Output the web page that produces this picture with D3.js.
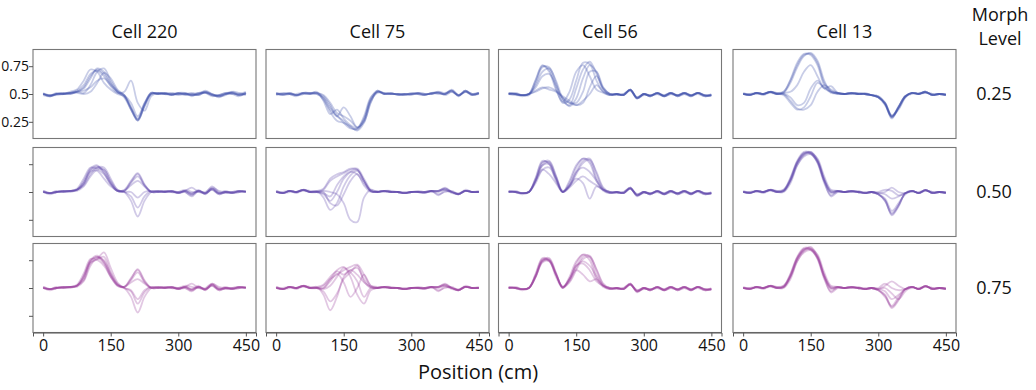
<!DOCTYPE html>
<html>
<head>
<meta charset="utf-8">
<script src="https://cdn.jsdelivr.net/npm/d3@7"></script>
<style>
  body { margin: 0; background: #fff; }
  svg { font-family: "Open Sans", "Noto Sans", sans-serif; }
</style>
</head>
<body>
<svg width="1036" height="390"></svg>
<script>
// posição ao longo da pista (cm) e níveis de morph
const positions = [0,15,30,45,60,75,90,105,120,135,150,165,180,195,210,225,240,255,270,285,300,315,330,345,360,375,390,405,420,435,450];
const cells = ["Cell 220", "Cell 75", "Cell 56", "Cell 13"];
const morphLevels = ["0.25", "0.50", "0.75"];
const xTicks = [0, 150, 300, 450];
const yTicks = [0.25, 0.5, 0.75];
const yTickLabels = ["0.25", "0.5", "0.75"];
const rowColors = ["#3a4aa8", "#5842a8", "#983a9c"];

// --- Cell 220 ---
const cell220_m25 = [
  [0.50,0.48,0.50,0.50,0.51,0.52,0.56,0.66,0.72,0.68,0.59,0.52,0.48,0.37,0.26,0.40,0.51,0.50,0.51,0.49,0.51,0.50,0.49,0.50,0.52,0.49,0.48,0.50,0.51,0.49,0.51],
  [0.50,0.49,0.50,0.51,0.50,0.52,0.51,0.58,0.70,0.73,0.62,0.53,0.49,0.38,0.27,0.41,0.50,0.51,0.50,0.50,0.50,0.51,0.48,0.51,0.51,0.48,0.49,0.51,0.50,0.50,0.52],
  [0.51,0.48,0.50,0.50,0.52,0.54,0.62,0.72,0.70,0.60,0.54,0.50,0.48,0.36,0.27,0.39,0.50,0.50,0.51,0.49,0.50,0.50,0.50,0.49,0.52,0.50,0.47,0.50,0.52,0.49,0.50],
  [0.50,0.49,0.49,0.50,0.51,0.51,0.50,0.52,0.60,0.69,0.64,0.54,0.49,0.38,0.28,0.41,0.51,0.50,0.50,0.50,0.51,0.49,0.50,0.51,0.51,0.50,0.48,0.49,0.52,0.51,0.49],
  [0.50,0.48,0.50,0.51,0.51,0.53,0.58,0.68,0.71,0.66,0.57,0.51,0.52,0.62,0.42,0.35,0.48,0.51,0.50,0.51,0.49,0.50,0.51,0.49,0.52,0.49,0.49,0.50,0.51,0.50,0.50],
  [0.49,0.48,0.51,0.50,0.50,0.52,0.55,0.64,0.73,0.70,0.60,0.52,0.47,0.36,0.26,0.39,0.50,0.51,0.50,0.49,0.51,0.51,0.49,0.50,0.53,0.50,0.48,0.50,0.50,0.48,0.51],
  [0.50,0.49,0.50,0.50,0.51,0.52,0.53,0.56,0.62,0.64,0.58,0.52,0.49,0.42,0.30,0.42,0.51,0.50,0.51,0.50,0.50,0.50,0.49,0.50,0.51,0.49,0.49,0.51,0.51,0.49,0.51]
];
const cell220_m50 = [
  [0.50,0.49,0.50,0.51,0.51,0.52,0.58,0.70,0.73,0.68,0.58,0.51,0.52,0.60,0.67,0.57,0.50,0.51,0.50,0.51,0.49,0.51,0.48,0.52,0.48,0.53,0.49,0.50,0.49,0.51,0.50],
  [0.50,0.48,0.50,0.50,0.51,0.53,0.62,0.72,0.71,0.70,0.60,0.52,0.51,0.58,0.64,0.56,0.50,0.50,0.51,0.50,0.49,0.50,0.47,0.51,0.49,0.52,0.48,0.50,0.50,0.50,0.51],
  [0.51,0.49,0.50,0.51,0.50,0.52,0.56,0.66,0.72,0.72,0.62,0.52,0.50,0.50,0.45,0.50,0.51,0.50,0.50,0.51,0.50,0.51,0.54,0.50,0.49,0.55,0.50,0.49,0.50,0.51,0.50],
  [0.50,0.49,0.51,0.50,0.51,0.51,0.55,0.64,0.70,0.66,0.57,0.51,0.50,0.42,0.28,0.42,0.50,0.51,0.50,0.50,0.50,0.50,0.46,0.51,0.49,0.52,0.49,0.51,0.49,0.50,0.50],
  [0.50,0.49,0.50,0.51,0.51,0.52,0.60,0.71,0.74,0.67,0.57,0.51,0.51,0.56,0.60,0.55,0.50,0.50,0.50,0.51,0.49,0.51,0.49,0.51,0.48,0.53,0.48,0.50,0.49,0.50,0.51],
  [0.51,0.49,0.50,0.50,0.51,0.52,0.57,0.68,0.69,0.62,0.55,0.51,0.50,0.46,0.36,0.46,0.51,0.50,0.51,0.50,0.50,0.52,0.50,0.50,0.50,0.54,0.51,0.50,0.50,0.51,0.50],
  [0.50,0.49,0.50,0.51,0.51,0.52,0.58,0.69,0.72,0.70,0.59,0.51,0.51,0.59,0.66,0.56,0.50,0.51,0.50,0.51,0.49,0.51,0.48,0.51,0.49,0.53,0.49,0.50,0.49,0.51,0.50]
];
const cell220_m75 = [
  [0.50,0.49,0.50,0.51,0.51,0.52,0.60,0.74,0.78,0.74,0.62,0.53,0.51,0.58,0.67,0.57,0.50,0.51,0.50,0.51,0.49,0.51,0.49,0.52,0.48,0.53,0.49,0.50,0.49,0.51,0.50],
  [0.50,0.48,0.50,0.50,0.51,0.53,0.63,0.76,0.76,0.78,0.64,0.54,0.51,0.57,0.64,0.55,0.50,0.50,0.51,0.50,0.49,0.50,0.48,0.51,0.49,0.52,0.48,0.50,0.50,0.50,0.51],
  [0.51,0.49,0.50,0.51,0.50,0.52,0.57,0.72,0.76,0.82,0.68,0.55,0.50,0.48,0.40,0.48,0.51,0.50,0.50,0.51,0.50,0.51,0.54,0.50,0.49,0.54,0.50,0.49,0.50,0.51,0.50],
  [0.50,0.49,0.51,0.50,0.51,0.51,0.56,0.70,0.77,0.72,0.60,0.52,0.50,0.42,0.28,0.42,0.50,0.51,0.50,0.50,0.50,0.50,0.47,0.51,0.49,0.52,0.49,0.51,0.49,0.50,0.50],
  [0.50,0.49,0.50,0.51,0.51,0.52,0.61,0.75,0.79,0.73,0.61,0.53,0.51,0.55,0.58,0.54,0.50,0.50,0.50,0.51,0.49,0.51,0.49,0.51,0.48,0.53,0.48,0.50,0.49,0.50,0.51],
  [0.51,0.49,0.50,0.50,0.51,0.52,0.58,0.73,0.75,0.70,0.60,0.52,0.50,0.47,0.36,0.46,0.51,0.50,0.51,0.50,0.50,0.52,0.51,0.50,0.50,0.54,0.51,0.50,0.50,0.51,0.50],
  [0.50,0.49,0.50,0.51,0.51,0.52,0.60,0.74,0.78,0.75,0.63,0.53,0.51,0.59,0.66,0.56,0.50,0.51,0.50,0.51,0.49,0.51,0.48,0.51,0.49,0.53,0.49,0.50,0.49,0.51,0.50]
];

// --- Cell 75 ---
const cell75_m25 = [
  [0.50,0.49,0.51,0.49,0.51,0.50,0.51,0.46,0.36,0.30,0.26,0.20,0.18,0.27,0.45,0.52,0.50,0.51,0.49,0.50,0.50,0.51,0.49,0.51,0.51,0.50,0.53,0.48,0.53,0.49,0.51],
  [0.51,0.50,0.50,0.48,0.51,0.51,0.50,0.47,0.38,0.31,0.24,0.19,0.19,0.30,0.47,0.52,0.50,0.50,0.50,0.49,0.51,0.50,0.50,0.50,0.52,0.49,0.52,0.49,0.52,0.50,0.50],
  [0.49,0.51,0.50,0.49,0.50,0.50,0.52,0.44,0.32,0.36,0.28,0.22,0.19,0.26,0.44,0.51,0.51,0.50,0.50,0.50,0.50,0.50,0.49,0.51,0.51,0.50,0.54,0.49,0.52,0.49,0.51],
  [0.50,0.50,0.51,0.49,0.50,0.51,0.51,0.48,0.40,0.30,0.38,0.30,0.20,0.25,0.42,0.53,0.50,0.51,0.49,0.50,0.49,0.51,0.50,0.50,0.52,0.51,0.53,0.48,0.53,0.50,0.51],
  [0.51,0.49,0.50,0.50,0.51,0.50,0.50,0.45,0.34,0.26,0.24,0.21,0.17,0.24,0.43,0.52,0.51,0.50,0.50,0.49,0.50,0.50,0.49,0.51,0.50,0.50,0.52,0.49,0.53,0.49,0.50],
  [0.50,0.50,0.50,0.49,0.51,0.51,0.51,0.49,0.42,0.33,0.30,0.26,0.20,0.28,0.46,0.53,0.50,0.50,0.50,0.50,0.50,0.51,0.50,0.50,0.51,0.50,0.53,0.49,0.52,0.50,0.51]
];
const cell75_m50 = [
  [0.50,0.49,0.51,0.50,0.52,0.50,0.50,0.52,0.60,0.64,0.67,0.70,0.71,0.62,0.52,0.50,0.51,0.50,0.50,0.49,0.50,0.50,0.50,0.51,0.51,0.53,0.50,0.48,0.51,0.50,0.50],
  [0.51,0.49,0.51,0.49,0.52,0.50,0.51,0.45,0.34,0.40,0.55,0.65,0.69,0.60,0.51,0.50,0.51,0.50,0.50,0.49,0.50,0.50,0.49,0.51,0.50,0.52,0.49,0.48,0.52,0.50,0.51],
  [0.50,0.49,0.51,0.50,0.51,0.50,0.50,0.48,0.42,0.50,0.62,0.68,0.70,0.60,0.51,0.50,0.51,0.50,0.50,0.50,0.50,0.50,0.50,0.51,0.48,0.50,0.51,0.48,0.51,0.50,0.50],
  [0.50,0.50,0.51,0.50,0.52,0.50,0.50,0.50,0.40,0.38,0.48,0.60,0.66,0.56,0.50,0.51,0.50,0.50,0.50,0.49,0.50,0.50,0.50,0.50,0.51,0.53,0.50,0.49,0.51,0.50,0.50],
  [0.50,0.49,0.51,0.50,0.52,0.50,0.50,0.51,0.50,0.48,0.40,0.25,0.23,0.45,0.52,0.50,0.51,0.50,0.50,0.49,0.50,0.50,0.50,0.51,0.51,0.52,0.50,0.48,0.51,0.50,0.50],
  [0.51,0.49,0.51,0.50,0.52,0.50,0.51,0.53,0.62,0.66,0.68,0.71,0.70,0.60,0.51,0.50,0.51,0.51,0.50,0.49,0.50,0.51,0.50,0.51,0.51,0.54,0.50,0.48,0.51,0.50,0.50],
  [0.50,0.49,0.50,0.50,0.52,0.51,0.50,0.49,0.46,0.56,0.64,0.68,0.66,0.58,0.51,0.50,0.51,0.50,0.50,0.49,0.50,0.50,0.49,0.51,0.47,0.51,0.50,0.48,0.51,0.50,0.50]
];
const cell75_m75 = [
  [0.50,0.49,0.51,0.50,0.52,0.50,0.50,0.52,0.58,0.62,0.66,0.69,0.71,0.62,0.52,0.50,0.51,0.50,0.50,0.49,0.50,0.50,0.50,0.51,0.51,0.53,0.50,0.48,0.51,0.50,0.50],
  [0.51,0.49,0.51,0.49,0.52,0.50,0.51,0.44,0.30,0.42,0.60,0.66,0.62,0.55,0.51,0.50,0.51,0.50,0.50,0.49,0.50,0.50,0.49,0.51,0.50,0.52,0.49,0.48,0.52,0.50,0.51],
  [0.50,0.49,0.51,0.50,0.51,0.50,0.50,0.50,0.58,0.66,0.69,0.60,0.44,0.36,0.48,0.50,0.51,0.50,0.50,0.50,0.50,0.50,0.50,0.51,0.48,0.50,0.51,0.48,0.51,0.50,0.50],
  [0.50,0.50,0.51,0.50,0.52,0.50,0.50,0.50,0.56,0.63,0.55,0.42,0.50,0.62,0.52,0.51,0.50,0.50,0.50,0.49,0.50,0.50,0.50,0.50,0.51,0.53,0.50,0.49,0.51,0.50,0.50],
  [0.50,0.49,0.51,0.50,0.52,0.50,0.50,0.47,0.38,0.45,0.58,0.64,0.70,0.56,0.50,0.50,0.51,0.50,0.50,0.49,0.50,0.50,0.50,0.51,0.51,0.52,0.50,0.48,0.51,0.50,0.50],
  [0.51,0.49,0.51,0.50,0.52,0.50,0.51,0.53,0.60,0.65,0.62,0.66,0.68,0.58,0.51,0.50,0.51,0.51,0.50,0.49,0.50,0.51,0.50,0.51,0.51,0.54,0.50,0.48,0.51,0.50,0.50],
  [0.50,0.49,0.50,0.50,0.52,0.51,0.50,0.49,0.52,0.60,0.68,0.64,0.56,0.42,0.50,0.50,0.51,0.50,0.50,0.49,0.50,0.50,0.49,0.51,0.47,0.51,0.50,0.48,0.51,0.50,0.50]
];

// --- Cell 56 ---
const cell56_m25 = [
  [0.50,0.50,0.49,0.50,0.62,0.75,0.72,0.56,0.42,0.45,0.62,0.78,0.77,0.62,0.52,0.49,0.50,0.49,0.54,0.46,0.50,0.48,0.51,0.48,0.51,0.48,0.51,0.49,0.51,0.48,0.49],
  [0.50,0.51,0.49,0.49,0.60,0.74,0.74,0.60,0.44,0.40,0.55,0.72,0.79,0.68,0.54,0.49,0.50,0.49,0.54,0.47,0.50,0.49,0.51,0.48,0.50,0.49,0.51,0.48,0.51,0.49,0.48],
  [0.51,0.50,0.48,0.50,0.56,0.66,0.68,0.58,0.46,0.42,0.42,0.52,0.70,0.70,0.56,0.50,0.49,0.50,0.53,0.46,0.49,0.49,0.50,0.49,0.51,0.48,0.50,0.49,0.50,0.48,0.49],
  [0.50,0.50,0.49,0.50,0.52,0.55,0.56,0.53,0.48,0.44,0.40,0.42,0.56,0.66,0.55,0.50,0.50,0.49,0.54,0.47,0.50,0.48,0.51,0.48,0.51,0.49,0.51,0.48,0.51,0.49,0.49],
  [0.50,0.49,0.49,0.50,0.63,0.76,0.70,0.54,0.43,0.52,0.70,0.76,0.66,0.54,0.51,0.49,0.50,0.50,0.54,0.46,0.50,0.48,0.51,0.49,0.51,0.48,0.51,0.49,0.51,0.48,0.50],
  [0.51,0.50,0.49,0.50,0.58,0.70,0.73,0.62,0.46,0.39,0.46,0.64,0.76,0.70,0.55,0.50,0.50,0.49,0.53,0.47,0.50,0.49,0.50,0.48,0.51,0.49,0.50,0.48,0.51,0.49,0.49],
  [0.50,0.50,0.49,0.50,0.53,0.56,0.54,0.52,0.47,0.42,0.40,0.44,0.50,0.58,0.52,0.50,0.50,0.49,0.54,0.46,0.50,0.48,0.51,0.48,0.50,0.49,0.51,0.49,0.51,0.49,0.49]
];
const cell56_m50 = [
  [0.50,0.51,0.49,0.50,0.62,0.77,0.76,0.62,0.50,0.58,0.72,0.80,0.78,0.62,0.52,0.49,0.50,0.49,0.53,0.48,0.50,0.48,0.51,0.48,0.51,0.48,0.51,0.48,0.51,0.48,0.49],
  [0.50,0.50,0.49,0.50,0.60,0.76,0.78,0.65,0.50,0.55,0.68,0.78,0.80,0.66,0.53,0.49,0.50,0.49,0.53,0.48,0.50,0.49,0.51,0.48,0.50,0.49,0.51,0.48,0.51,0.49,0.48],
  [0.51,0.50,0.48,0.50,0.61,0.74,0.75,0.63,0.50,0.56,0.68,0.72,0.68,0.60,0.52,0.50,0.49,0.50,0.53,0.47,0.49,0.49,0.50,0.49,0.51,0.48,0.50,0.49,0.50,0.48,0.49],
  [0.50,0.50,0.49,0.50,0.58,0.70,0.72,0.62,0.50,0.56,0.62,0.58,0.44,0.55,0.52,0.50,0.50,0.49,0.54,0.47,0.50,0.48,0.51,0.48,0.51,0.49,0.51,0.48,0.51,0.49,0.49],
  [0.50,0.50,0.49,0.50,0.63,0.78,0.75,0.60,0.50,0.60,0.74,0.80,0.76,0.60,0.51,0.49,0.50,0.50,0.54,0.47,0.50,0.48,0.51,0.49,0.51,0.48,0.51,0.49,0.51,0.48,0.50],
  [0.51,0.50,0.49,0.50,0.60,0.74,0.77,0.64,0.51,0.55,0.66,0.76,0.79,0.68,0.54,0.50,0.50,0.49,0.53,0.47,0.50,0.49,0.50,0.48,0.51,0.49,0.50,0.48,0.51,0.49,0.49],
  [0.50,0.50,0.49,0.50,0.60,0.70,0.66,0.58,0.50,0.54,0.60,0.64,0.60,0.56,0.52,0.50,0.50,0.49,0.54,0.46,0.50,0.48,0.51,0.48,0.50,0.49,0.51,0.49,0.51,0.49,0.49]
];
const cell56_m75 = [
  [0.50,0.51,0.49,0.50,0.62,0.76,0.74,0.62,0.51,0.58,0.72,0.80,0.78,0.62,0.52,0.49,0.50,0.49,0.53,0.48,0.50,0.48,0.51,0.48,0.51,0.48,0.51,0.48,0.51,0.48,0.49],
  [0.50,0.50,0.49,0.50,0.60,0.75,0.77,0.64,0.50,0.56,0.68,0.78,0.79,0.66,0.53,0.49,0.50,0.49,0.53,0.48,0.50,0.49,0.51,0.48,0.50,0.49,0.51,0.48,0.51,0.49,0.48],
  [0.51,0.50,0.48,0.50,0.61,0.74,0.75,0.63,0.51,0.57,0.70,0.74,0.70,0.60,0.52,0.50,0.49,0.50,0.53,0.47,0.49,0.49,0.50,0.49,0.51,0.48,0.50,0.49,0.50,0.48,0.49],
  [0.50,0.50,0.49,0.50,0.60,0.73,0.74,0.62,0.50,0.58,0.66,0.62,0.56,0.58,0.52,0.50,0.50,0.49,0.54,0.47,0.50,0.48,0.51,0.48,0.51,0.49,0.51,0.48,0.51,0.49,0.49],
  [0.50,0.50,0.49,0.50,0.63,0.77,0.75,0.60,0.50,0.60,0.74,0.80,0.75,0.58,0.51,0.49,0.50,0.50,0.54,0.47,0.50,0.48,0.51,0.49,0.51,0.48,0.51,0.49,0.51,0.48,0.50],
  [0.51,0.50,0.49,0.50,0.60,0.74,0.76,0.63,0.51,0.55,0.66,0.76,0.78,0.67,0.54,0.50,0.50,0.49,0.53,0.47,0.50,0.49,0.50,0.48,0.51,0.49,0.50,0.48,0.51,0.49,0.49],
  [0.50,0.50,0.49,0.50,0.61,0.75,0.75,0.62,0.51,0.58,0.70,0.72,0.66,0.56,0.52,0.50,0.50,0.49,0.54,0.46,0.50,0.48,0.51,0.48,0.50,0.49,0.51,0.49,0.51,0.49,0.49]
];

// --- Cell 13 ---
const cell13_m25 = [
  [0.50,0.49,0.51,0.50,0.52,0.50,0.51,0.60,0.74,0.84,0.87,0.80,0.62,0.52,0.51,0.50,0.51,0.50,0.50,0.49,0.47,0.41,0.29,0.38,0.48,0.51,0.50,0.52,0.49,0.50,0.49],
  [0.50,0.50,0.51,0.49,0.52,0.51,0.52,0.63,0.78,0.86,0.85,0.76,0.58,0.51,0.51,0.50,0.50,0.51,0.50,0.49,0.48,0.42,0.30,0.36,0.47,0.51,0.50,0.51,0.50,0.50,0.50],
  [0.50,0.49,0.51,0.50,0.52,0.50,0.50,0.44,0.37,0.36,0.40,0.52,0.58,0.54,0.51,0.50,0.51,0.50,0.50,0.49,0.47,0.40,0.30,0.39,0.48,0.51,0.50,0.52,0.49,0.50,0.49],
  [0.51,0.49,0.51,0.50,0.51,0.50,0.49,0.42,0.36,0.38,0.48,0.60,0.56,0.52,0.50,0.50,0.51,0.50,0.50,0.49,0.48,0.42,0.31,0.37,0.47,0.51,0.50,0.52,0.49,0.50,0.50],
  [0.50,0.50,0.50,0.50,0.52,0.51,0.51,0.52,0.58,0.70,0.76,0.66,0.55,0.52,0.50,0.50,0.50,0.50,0.51,0.49,0.47,0.41,0.29,0.38,0.48,0.50,0.51,0.51,0.50,0.50,0.49],
  [0.50,0.49,0.51,0.50,0.52,0.50,0.50,0.47,0.40,0.42,0.55,0.62,0.55,0.57,0.51,0.50,0.51,0.50,0.50,0.49,0.47,0.42,0.30,0.38,0.48,0.51,0.50,0.52,0.49,0.50,0.49],
  [0.50,0.49,0.51,0.50,0.52,0.50,0.52,0.62,0.76,0.85,0.86,0.78,0.60,0.53,0.51,0.50,0.51,0.50,0.50,0.49,0.47,0.41,0.28,0.38,0.48,0.51,0.50,0.52,0.49,0.50,0.49]
];
const cell13_m50 = [
  [0.50,0.49,0.51,0.50,0.52,0.50,0.51,0.60,0.76,0.84,0.86,0.79,0.62,0.50,0.51,0.50,0.51,0.50,0.49,0.50,0.48,0.42,0.30,0.38,0.49,0.51,0.49,0.52,0.49,0.50,0.49],
  [0.50,0.50,0.51,0.49,0.52,0.51,0.52,0.63,0.78,0.86,0.85,0.76,0.58,0.47,0.51,0.50,0.50,0.51,0.49,0.50,0.48,0.44,0.33,0.40,0.48,0.51,0.49,0.51,0.50,0.50,0.50],
  [0.50,0.49,0.51,0.50,0.52,0.50,0.50,0.58,0.74,0.83,0.85,0.80,0.64,0.52,0.51,0.50,0.51,0.50,0.49,0.50,0.49,0.50,0.54,0.50,0.49,0.51,0.49,0.52,0.49,0.50,0.49],
  [0.51,0.49,0.51,0.50,0.51,0.50,0.51,0.61,0.77,0.85,0.84,0.77,0.60,0.49,0.50,0.50,0.51,0.50,0.49,0.50,0.49,0.48,0.44,0.46,0.49,0.51,0.49,0.52,0.49,0.50,0.50],
  [0.50,0.50,0.50,0.50,0.52,0.51,0.51,0.60,0.74,0.82,0.84,0.78,0.60,0.46,0.50,0.50,0.50,0.50,0.50,0.50,0.48,0.43,0.29,0.37,0.49,0.50,0.50,0.51,0.50,0.50,0.49],
  [0.50,0.49,0.51,0.50,0.52,0.50,0.51,0.62,0.77,0.85,0.86,0.78,0.61,0.51,0.51,0.50,0.51,0.50,0.49,0.50,0.50,0.52,0.51,0.47,0.49,0.51,0.49,0.52,0.49,0.50,0.49],
  [0.50,0.49,0.51,0.50,0.52,0.50,0.52,0.61,0.76,0.84,0.85,0.77,0.60,0.50,0.51,0.50,0.51,0.50,0.49,0.50,0.48,0.42,0.31,0.38,0.49,0.51,0.49,0.52,0.49,0.50,0.49]
];
const cell13_m75 = [
  [0.50,0.49,0.51,0.50,0.52,0.50,0.51,0.60,0.76,0.84,0.87,0.79,0.62,0.50,0.51,0.50,0.51,0.50,0.49,0.50,0.48,0.43,0.32,0.39,0.49,0.51,0.49,0.52,0.49,0.50,0.49],
  [0.50,0.50,0.51,0.49,0.52,0.51,0.52,0.63,0.78,0.86,0.85,0.76,0.58,0.47,0.51,0.50,0.50,0.51,0.49,0.50,0.49,0.52,0.56,0.52,0.49,0.51,0.49,0.51,0.50,0.50,0.50],
  [0.50,0.49,0.51,0.50,0.52,0.50,0.50,0.58,0.74,0.83,0.85,0.80,0.64,0.52,0.51,0.50,0.51,0.50,0.49,0.50,0.49,0.47,0.40,0.44,0.49,0.51,0.49,0.52,0.49,0.50,0.49],
  [0.51,0.49,0.51,0.50,0.51,0.50,0.51,0.61,0.77,0.85,0.84,0.77,0.60,0.49,0.50,0.50,0.51,0.50,0.49,0.50,0.48,0.44,0.33,0.40,0.49,0.51,0.49,0.52,0.49,0.50,0.50],
  [0.50,0.50,0.50,0.50,0.52,0.51,0.51,0.60,0.74,0.82,0.84,0.78,0.60,0.46,0.50,0.50,0.50,0.50,0.50,0.50,0.50,0.54,0.50,0.48,0.49,0.50,0.50,0.51,0.50,0.50,0.49],
  [0.50,0.49,0.51,0.50,0.52,0.50,0.51,0.62,0.77,0.85,0.86,0.78,0.61,0.51,0.51,0.50,0.51,0.50,0.49,0.50,0.48,0.42,0.34,0.42,0.49,0.51,0.49,0.52,0.49,0.50,0.49],
  [0.50,0.49,0.51,0.50,0.52,0.50,0.52,0.61,0.76,0.84,0.85,0.77,0.60,0.50,0.51,0.50,0.51,0.50,0.49,0.50,0.49,0.50,0.45,0.40,0.47,0.51,0.49,0.52,0.49,0.50,0.49]
];

// grade: linhas = nível de morph, colunas = célula
const panels = [
  [cell220_m25, cell75_m25, cell56_m25, cell13_m25],
  [cell220_m50, cell75_m50, cell56_m50, cell13_m50],
  [cell220_m75, cell75_m75, cell56_m75, cell13_m75]
];

// === desenho ===
const svg = d3.select("svg");

const colLeft = [33, 266, 498.5, 733];
const rowTop = [49.5, 147.5, 243.5];
const panelW = 223;
const panelH = 89;

// margens estilo matplotlib (5%)
const x = d3.scaleLinear().domain([-22.5, 472.5]).range([0, panelW]);
const y = d3.scaleLinear().domain([0.1, 0.9]).range([panelH, 0]);

const line = d3.line()
  .x((d, i) => x(positions[i]))
  .y(d => y(d))
  .curve(d3.curveCatmullRom.alpha(0.5));

panels.forEach((row, r) => {
  row.forEach((traces, c) => {
    const g = svg.append("g")
      .attr("transform", `translate(${colLeft[c]},${rowTop[r]})`);

    g.selectAll("path.trial")
      .data(traces)
      .enter()
      .append("path")
      .attr("class", "trial")
      .attr("fill", "none")
      .attr("stroke", rowColors[r])
      .attr("stroke-opacity", 0.28)
      .attr("stroke-width", 1.8)
      .attr("stroke-linejoin", "round")
      .attr("d", line);

    g.append("rect")
      .attr("x", 0).attr("y", 0)
      .attr("width", panelW).attr("height", panelH)
      .attr("fill", "none")
      .attr("stroke", "#777")
      .attr("stroke-width", 1.1);

    // eixo y só na primeira coluna
    if (c === 0) {
      const ay = g.append("g")
        .call(d3.axisLeft(y).tickValues(yTicks).tickSize(4)
          .tickFormat((d, i) => r === 0 ? yTickLabels[i] : ""));
      ay.select(".domain").remove();
      ay.selectAll(".tick line").attr("stroke", "#555");
      ay.selectAll(".tick text")
        .attr("x", -4)
        .style("font-size", "14px")
        .style("font-family", "'Open Sans', sans-serif")
        .attr("fill", "#111");
    }

    // eixo x só na última linha
    if (r === panels.length - 1) {
      const ax = g.append("g")
        .attr("transform", `translate(0,${panelH})`)
        .call(d3.axisBottom(x).tickValues(xTicks).tickSize(4).tickFormat(d3.format("d")));
      ax.select(".domain").attr("stroke", "#555");
      ax.selectAll(".tick line").attr("stroke", "#555");
      ax.selectAll(".tick text")
        .attr("y", 7)
        .style("font-size", "16px")
        .style("font-family", "'Open Sans', sans-serif")
        .attr("fill", "#111");
    }

    if (r === 0) {
      svg.append("text")
        .attr("x", colLeft[c] + panelW / 2)
        .attr("y", 38)
        .attr("text-anchor", "middle")
        .style("font-size", "18px")
        .attr("fill", "#111")
        .text(cells[c]);
    }
  });

  // nível de morph à direita
  svg.append("text")
    .attr("x", 994)
    .attr("y", rowTop[r] + panelH / 2 + 6)
    .attr("text-anchor", "middle")
    .style("font-size", "18px")
    .attr("fill", "#111")
    .text(morphLevels[r]);
});

svg.append("text")
  .attr("x", 1000).attr("y", 21)
  .attr("text-anchor", "middle")
  .style("font-size", "18px")
  .attr("fill", "#111")
  .text("Morph");
svg.append("text")
  .attr("x", 1000).attr("y", 45)
  .attr("text-anchor", "middle")
  .style("font-size", "18px")
  .attr("fill", "#111")
  .text("Level");

svg.append("text")
  .attr("x", 478).attr("y", 379)
  .attr("text-anchor", "middle")
  .style("font-size", "20px")
  .attr("fill", "#111")
  .text("Position (cm)");
</script>
</body>
</html>
